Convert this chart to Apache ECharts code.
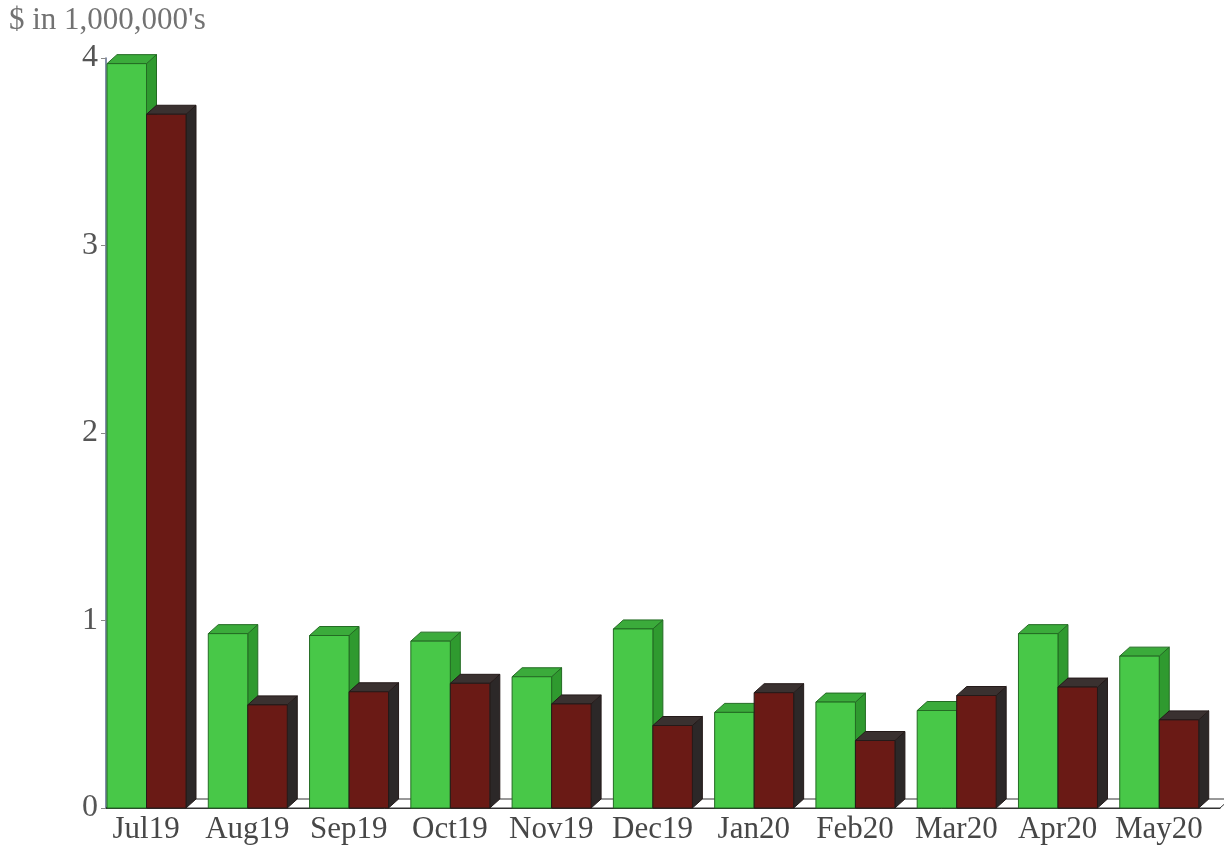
<!DOCTYPE html>
<html>
<head>
<meta charset="utf-8">
<title>Monthly amounts</title>
<script src="https://cdn.jsdelivr.net/npm/echarts@6/dist/echarts.min.js"></script>
<style>
  html, body { margin: 0; padding: 0; background: #ffffff; }
  #chart { width: 1224px; height: 852px; }
</style>
</head>
<body>
<div id="chart"></div>
<script>
// Month labels along the category axis
const categories = ['Jul19', 'Aug19', 'Sep19', 'Oct19', 'Nov19', 'Dec19', 'Jan20', 'Feb20', 'Mar20', 'Apr20', 'May20'];
// Amounts in millions of dollars
const greenValues = [3.97, 0.93, 0.92, 0.89, 0.70, 0.955, 0.51, 0.565, 0.52, 0.93, 0.81];
const redValues   = [3.70, 0.55, 0.62, 0.665, 0.555, 0.44, 0.615, 0.36, 0.60, 0.645, 0.47];
// Value axis ticks
const yTicks = [0, 1, 2, 3, 4];

const SERIF = '"Liberation Serif", "DejaVu Serif", serif';
const DX = 10, DY = 9;          // extrusion of the 3D boxes
const BAR_FRAC = 0.39;          // bar width as share of a category band
const SHIFT_FRAC = 0.49;        // left edge of the pair relative to band centre

const palettes = {
  green: { front: '#48c848', top: '#3bab3b', side: '#2f9a2f', edge: '#236b23' },
  red:   { front: '#6a1a15', top: '#3a3130', side: '#2c2828', edge: '#241a19' }
};

function boxRenderer(pal, slot) {
  return function (params, api) {
    const idx = api.value(0);
    const v = api.value(1);
    const band = api.size([1, 0])[0];
    const base = api.coord([idx, 0]);
    const top = api.coord([idx, v]);
    const w = band * BAR_FRAC;
    const x0 = base[0] - band * SHIFT_FRAC + slot * w;
    const x1 = x0 + w;
    const yB = base[1];
    const yT = top[1];
    const lineW = 1;
    return {
      type: 'group',
      children: [
        {
          type: 'polygon',
          shape: { points: [[x1, yT], [x1 + DX, yT - DY], [x1 + DX, yB - DY], [x1, yB]] },
          style: { fill: pal.side, stroke: pal.edge, lineWidth: lineW }
        },
        {
          type: 'polygon',
          shape: { points: [[x0, yT], [x0 + DX, yT - DY], [x1 + DX, yT - DY], [x1, yT]] },
          style: { fill: pal.top, stroke: pal.edge, lineWidth: lineW }
        },
        {
          type: 'rect',
          shape: { x: x0, y: yT, width: w, height: yB - yT },
          style: { fill: pal.front, stroke: pal.edge, lineWidth: lineW }
        }
      ]
    };
  };
}

// floor slab underneath all boxes
function floorRenderer(params, api) {
  const band = api.size([1, 0])[0];
  const first = api.coord([0, 0]);
  const last = api.coord([categories.length - 1, 0]);
  const L = first[0] - band / 2;
  const R = last[0] + band / 2;
  const y = first[1];
  return {
    type: 'polygon',
    shape: { points: [[L, y], [L + DX, y - DY], [R + DX, y - DY], [R, y]] },
    style: { fill: '#ffffff', stroke: '#333333', lineWidth: 1 }
  };
}

const chart = echarts.init(document.getElementById('chart'), null, { renderer: 'canvas' });

chart.setOption({
  backgroundColor: '#ffffff',
  animation: false,
  title: {
    text: "$ in 1,000,000's",
    left: 9,
    top: 5,
    padding: 0,
    textStyle: { fontFamily: SERIF, fontSize: 31, fontWeight: 'normal', color: '#727272' }
  },
  grid: { left: 106, right: 4, top: 58, bottom: 44, containLabel: false },
  xAxis: {
    type: 'category',
    data: categories,
    boundaryGap: true,
    axisLine: { show: true, lineStyle: { color: '#333333', width: 1 } },
    axisTick: { show: false },
    axisLabel: {
      fontFamily: SERIF, fontSize: 31, color: '#474747', margin: 6,
      padding: [0, 21, 0, 0], interval: 0
    },
    splitLine: { show: false }
  },
  yAxis: {
    type: 'value',
    min: yTicks[0],
    max: yTicks[yTicks.length - 1],
    interval: 1,
    axisLine: { show: true, lineStyle: { color: '#5a6a8c', width: 1.5 } },
    axisTick: { show: true, length: 5, lineStyle: { color: '#8a8a8a' } },
    axisLabel: { fontFamily: SERIF, fontSize: 32, color: '#555555', margin: 8 },
    splitLine: { show: false }
  },
  series: [
    {
      type: 'custom',
      name: 'floor',
      renderItem: floorRenderer,
      data: [[0, 0]],
      z: 1,
      silent: true
    },
    {
      type: 'custom',
      name: 'green',
      renderItem: boxRenderer(palettes.green, 0),
      data: greenValues.map((v, i) => [i, v]),
      encode: { x: 0, y: 1 },
      z: 2
    },
    {
      type: 'custom',
      name: 'red',
      renderItem: boxRenderer(palettes.red, 1),
      data: redValues.map((v, i) => [i, v]),
      encode: { x: 0, y: 1 },
      z: 3
    }
  ]
});
</script>
</body>
</html>
